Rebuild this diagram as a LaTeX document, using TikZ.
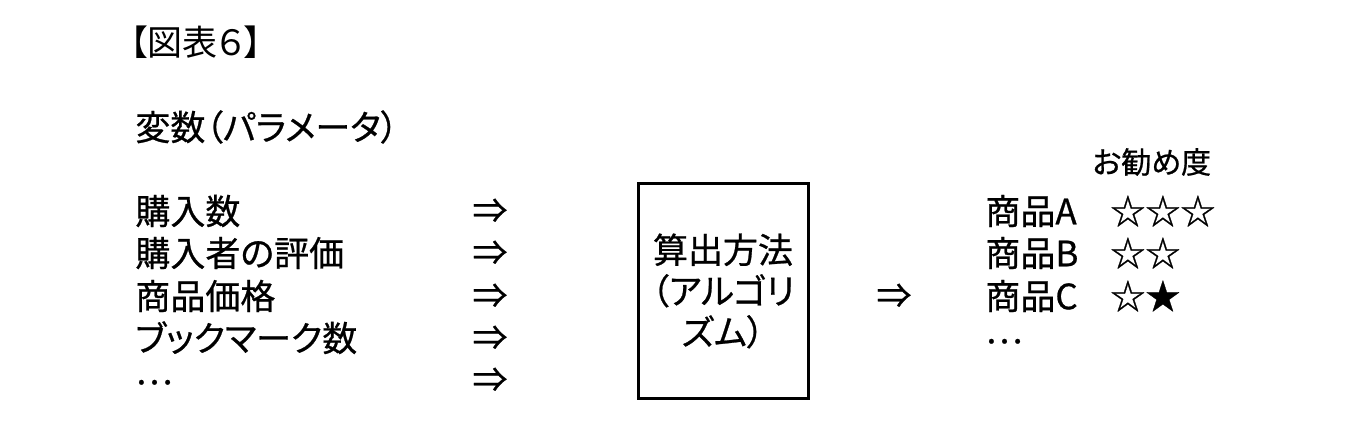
\documentclass[tikz,border=0pt]{standalone}
\usepackage{fontspec}
\setmainfont{Noto Sans CJK JP}[RawFeature=+palt, FakeBold=0.7]
\newfontfamily\titlefont{Noto Sans CJK JP}[RawFeature=+palt]
\usetikzlibrary{positioning}

\begin{document}
\begin{tikzpicture}[x=0.5pt, y=-0.5pt,
        txt/.style={inner sep=0pt, anchor=west,
              text height=15.5pt, text depth=2.2pt,
              font=\fontsize{17.5}{20.5}\selectfont},
        small/.style={inner sep=0pt, anchor=west,
              font=\fontsize{15}{18}\selectfont},
        sym/.style={inner sep=0pt,
              font=\fontsize{17.5}{20.5}\selectfont},
        algobox/.style={draw, line width=1.5pt,
              minimum width=85pt, minimum height=107.5pt,
              align=center, inner sep=0pt,
              font=\fontsize{17.5}{20.5}\selectfont}]
        \useasboundingbox (0,0) rectangle (1365,426);
        % heading
        \node[txt, font=\titlefont\fontsize{17.5}{20.5}\selectfont]
            (title) at (130,42) {【図表６】};
        \node[txt] (params) at (135,127) {変数（パラメータ）};
        % inputs
        \node[txt] (v1) at (135,211) {購入数};
        \node[txt] (v2) at (135,253) {購入者の評価};
        \node[txt] (v3) at (135,296) {商品価格};
        \node[txt] (v4) at (135,338) {ブックマーク数};
        \node[txt] (v5) at (135,371) {…};
        \node[sym] (a1) at (490,211) {⇒};
        \node[sym] (a2) at (490,253) {⇒};
        \node[sym] (a3) at (490,296) {⇒};
        \node[sym] (a4) at (490,338) {⇒};
        \node[sym] (a5) at (490,380) {⇒};
        % algorithm
        \node[algobox] (algo) at (723,291)
            {算出方法\\（アルゴリ\\ズム）};
        \node[sym] (aout) at (894,296) {⇒};
        % results
        \node[small] (rate) at (1092,162) {お勧め度};
        \node[txt] (pa) at (985,211) {商品A};
        \node[txt] (pb) at (985,253) {商品B};
        \node[txt] (pc) at (985,296) {商品C};
        \node[txt] (pd) at (985,330) {…};
        \node[txt] (sa) at (1110,211) {☆☆☆};
        \node[txt] (sb) at (1110,253) {☆☆};
        \node[txt] (sc) at (1110,296) {☆★};
\end{tikzpicture}
\end{document}
